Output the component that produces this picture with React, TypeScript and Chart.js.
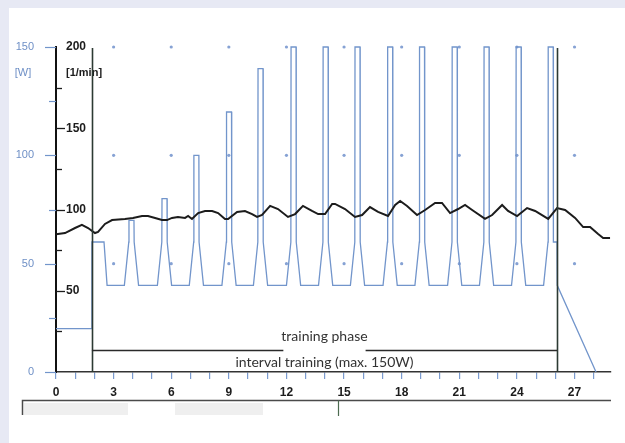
import React, { useEffect, useRef } from 'react';
import { Chart, registerables } from 'chart.js';
Chart.register(...registerables);

// ---- data (minutes on x) ----
const hrMinutes = [0, 0.47, 0.99, 1.35, 1.67, 2.03, 2.19, 2.55, 2.92, 3.59, 4.01, 4.48, 4.79, 5.16, 5.52, 5.78, 6.04, 6.35, 6.72, 6.88, 7.08, 7.4, 7.76, 8.13, 8.44, 8.8, 8.96, 9.43, 9.84, 10.21, 10.47, 10.73, 11.15, 11.56, 12.08, 12.45, 12.86, 13.33, 13.65, 14.01, 14.38, 14.53, 15.05, 15.57, 15.94, 16.35, 16.77, 17.29, 17.66, 17.92, 18.28, 18.8, 19.22, 19.74, 20.1, 20.52, 20.94, 21.3, 21.67, 22.34, 22.71, 23.23, 23.54, 24.01, 24.53, 24.95, 25.63, 26.09, 26.51, 27.03, 27.45, 27.81, 28.23, 28.49, 28.85];
const hrValues = [84.7, 85.5, 88.6, 90.5, 88.6, 85.5, 86.2, 91.1, 93.5, 94.2, 94.8, 96.0, 96.0, 94.8, 93.5, 93.5, 94.8, 95.4, 94.8, 96.0, 94.2, 97.8, 99.1, 99.1, 97.8, 94.2, 94.2, 98.5, 99.1, 97.2, 95.4, 96.6, 102.2, 100.3, 95.4, 97.2, 102.2, 99.1, 97.2, 97.2, 103.4, 103.4, 100.3, 95.4, 96.6, 101.5, 98.5, 96.0, 102.8, 105.2, 102.2, 96.6, 99.7, 104.0, 104.0, 97.8, 100.3, 102.8, 99.7, 94.2, 96.6, 102.8, 99.1, 96.0, 100.9, 99.1, 94.2, 100.9, 99.7, 94.8, 89.2, 89.2, 84.9, 82.5, 82.5];

const powerMinutes = [
  0, 1.87, 1.87, 2.5, 2.66,
  3.56, 3.79, 3.8, 4.06, 4.07, 4.3,
  5.28, 5.51, 5.52, 5.78, 5.79, 6.02,
  6.94, 7.17, 7.18, 7.44, 7.45, 7.68,
  8.64, 8.87, 8.88, 9.14, 9.15, 9.38,
  10.28, 10.51, 10.52, 10.78, 10.79, 11.02,
  12.0, 12.23, 12.24, 12.5, 12.51, 12.74,
  13.67, 13.9, 13.91, 14.17, 14.18, 14.41,
  15.33, 15.56, 15.57, 15.83, 15.84, 16.07,
  17.03, 17.26, 17.27, 17.53, 17.54, 17.77,
  18.69, 18.92, 18.93, 19.19, 19.2, 19.43,
  20.39, 20.62, 20.63, 20.89, 20.9, 21.13,
  22.05, 22.28, 22.29, 22.55, 22.56, 22.79,
  23.72, 23.95, 23.96, 24.22, 24.23, 24.46,
  25.39, 25.62, 25.63, 25.89, 25.9, 26.09, 26.1, 28.12,
];
const powerWatts = [
  20, 20, 60, 60, 40,
  40, 60, 70, 70, 60, 40,
  40, 60, 80, 80, 60, 40,
  40, 60, 100, 100, 60, 40,
  40, 60, 120, 120, 60, 40,
  40, 60, 140, 140, 60, 40,
  40, 60, 150, 150, 60, 40,
  40, 60, 150, 150, 60, 40,
  40, 60, 150, 150, 60, 40,
  40, 60, 150, 150, 60, 40,
  40, 60, 150, 150, 60, 40,
  40, 60, 150, 150, 60, 40,
  40, 60, 150, 150, 60, 40,
  40, 60, 150, 150, 60, 40,
  40, 60, 150, 150, 60, 60, 40, 0,
];

const dotMinutes = [3, 6, 9, 12, 15, 18, 21, 24, 27];
const dotWatts = [50, 100, 150];

const xMax = 28.9;
const wMax = 150;
const hrMax = 200;
const phaseStart = 1.87;
const phaseEnd = 26.09;
const phaseLevelW = 10;
const phaseTitle = 'training phase';
const phaseSubtitle = 'interval training (max. 150W)';
const wUnit = '[W]';
const hrUnit = '[1/min]';

const BLUE = '#7295cb';
const WLABEL = '#6f90c6';
const DARK = '#1c1c1c';
const SANS = '"Liberation Sans", Arial, sans-serif';
const TEXTFONT = 'Lato, "Open Sans", sans-serif';

const decoPlugin = {
  id: 'deco',
  afterDatasetsDraw(chart: any) {
    const { ctx, chartArea } = chart;
    const x = chart.scales.x;
    const yW = chart.scales.yW;
    const yHR = chart.scales.yHR;
    const left = chartArea.left;
    ctx.save();

    // W ticks (left of axis)
    ctx.strokeStyle = BLUE;
    ctx.lineWidth = 1.2;
    for (let v = 0; v <= wMax; v += 25) {
      const y = Math.round(yW.getPixelForValue(v)) + 0.5;
      const len = v % 50 === 0 ? 11 : 7;
      ctx.beginPath();
      ctx.moveTo(left - len, y);
      ctx.lineTo(left, y);
      ctx.stroke();
    }
    // HR ticks (right of axis)
    ctx.strokeStyle = DARK;
    ctx.lineWidth = 1.3;
    for (let v = 25; v < hrMax; v += 25) {
      const y = Math.round(yHR.getPixelForValue(v)) + 0.5;
      const len = v % 50 === 0 ? 9 : 6;
      ctx.beginPath();
      ctx.moveTo(left, y);
      ctx.lineTo(left + len, y);
      ctx.stroke();
    }

    // unit labels
    const unitY = yW.getPixelForValue(wMax) + 26;
    ctx.font = '11px ' + SANS;
    ctx.fillStyle = WLABEL;
    ctx.textAlign = 'center';
    ctx.textBaseline = 'middle';
    ctx.fillText(wUnit, 23, unitY);
    ctx.font = 'bold 11px ' + SANS;
    ctx.fillStyle = DARK;
    ctx.textAlign = 'left';
    ctx.fillText(hrUnit, left + 10, unitY);

    // phase boundary verticals
    ctx.strokeStyle = '#2c3a33';
    ctx.lineWidth = 1.6;
    [phaseStart, phaseEnd].forEach((m) => {
      const px = Math.round(x.getPixelForValue(m)) + 0.5;
      ctx.beginPath();
      ctx.moveTo(px, yW.getPixelForValue(wMax) + 1);
      ctx.lineTo(px, yW.getPixelForValue(0));
      ctx.stroke();
    });

    // phase bar with texts
    const x1 = x.getPixelForValue(phaseStart);
    const x2 = x.getPixelForValue(phaseEnd);
    const cx = (x1 + x2) / 2;
    const ly = Math.round(yW.getPixelForValue(phaseLevelW)) + 0.5;
    ctx.font = '14px ' + TEXTFONT;
    const tw = ctx.measureText(phaseTitle).width;
    ctx.strokeStyle = '#2a2a2a';
    ctx.lineWidth = 1.5;
    ctx.beginPath();
    ctx.moveTo(x1, ly);
    ctx.lineTo(cx - tw / 2 + 2, ly);
    ctx.moveTo(cx + tw / 2 - 2, ly);
    ctx.lineTo(x2, ly);
    ctx.stroke();
    ctx.fillStyle = '#333333';
    ctx.textAlign = 'center';
    ctx.textBaseline = 'middle';
    ctx.fillText(phaseTitle, cx, ly - 14);
    ctx.fillText(phaseSubtitle, cx, ly + 12);

    // lower table remnants
    const bottomY = 400.5;
    ctx.fillStyle = '#efefef';
    ctx.fillRect(24, 403, 104, 12);
    ctx.fillRect(175, 403, 88, 12);
    ctx.strokeStyle = '#4a4a4a';
    ctx.lineWidth = 1.5;
    ctx.beginPath();
    ctx.moveTo(22.5, 415);
    ctx.lineTo(22.5, bottomY);
    ctx.lineTo(chartArea.right, bottomY);
    ctx.stroke();
    ctx.strokeStyle = '#4d6b50';
    ctx.lineWidth = 1.2;
    ctx.beginPath();
    ctx.moveTo(338.5, bottomY);
    ctx.lineTo(338.5, 416);
    ctx.stroke();

    ctx.restore();
  },
};

export default function App() {
  const ref = useRef<HTMLCanvasElement | null>(null);
  useEffect(() => {
    if (!ref.current) return;
    const hrData = hrMinutes.map((m, i) => ({ x: m, y: hrValues[i] }));
    const powerData = powerMinutes.map((m, i) => ({ x: m, y: powerWatts[i] }));
    const dots: { x: number; y: number }[] = [];
    dotWatts.forEach((w) => dotMinutes.forEach((m) => dots.push({ x: m, y: w })));

    const chart = new Chart(ref.current, {
      type: 'line',
      data: {
        datasets: [
          {
            label: 'heart rate',
            data: hrData,
            yAxisID: 'yHR',
            borderColor: DARK,
            borderWidth: 2,
            pointRadius: 0,
            tension: 0,
            order: 0,
          },
          {
            label: 'power',
            data: powerData,
            yAxisID: 'yW',
            borderColor: BLUE,
            borderWidth: 1.3,
            pointRadius: 0,
            tension: 0,
            clip: false,
            order: 1,
          },
          {
            label: 'grid',
            data: dots,
            yAxisID: 'yW',
            showLine: false,
            pointRadius: 1.6,
            pointBorderWidth: 0,
            pointBackgroundColor: '#86a2d4',
            clip: false,
            order: 2,
          },
        ],
      },
      options: {
        responsive: false,
        animation: false,
        devicePixelRatio: 1,
        layout: { padding: { left: 0, top: 47, right: 14, bottom: 0 } },
        plugins: { legend: { display: false }, tooltip: { enabled: false } },
        scales: {
          x: {
            type: 'linear',
            min: 0,
            max: xMax,
            afterFit: (s: any) => { s.height = 71; },
            border: { display: true, color: '#333', width: 1.6 },
            grid: { display: true, drawOnChartArea: false, drawTicks: true, tickLength: 7, color: '#7b9bcf', lineWidth: 1.2 },
            ticks: {
              stepSize: 1,
              includeBounds: false,
              autoSkip: false,
              maxRotation: 0,
              padding: 6,
              color: DARK,
              font: { family: SANS, weight: 'bold', size: 12 },
              callback: (v: any) => (Number(v) % 3 === 0 ? String(v) : ''),
            },
          },
          yW: {
            type: 'linear',
            position: 'left',
            weight: 1,
            min: 0,
            max: wMax,
            afterFit: (s: any) => { s.width = 56; },
            border: { display: false },
            grid: { display: false },
            ticks: {
              stepSize: 25,
              padding: 14,
              color: WLABEL,
              font: { family: SANS, size: 11 },
              callback: (v: any) => (Number(v) % 50 === 0 ? String(v) : ''),
            },
          },
          yHR: {
            type: 'linear',
            position: 'left',
            weight: 0,
            min: 0,
            max: hrMax,
            afterFit: (s: any) => { s.width = 0; },
            border: { display: true, color: '#111', width: 2 },
            grid: { display: false },
            ticks: {
              stepSize: 25,
              mirror: true,
              padding: 10,
              color: DARK,
              font: { family: SANS, weight: 'bold', size: 12 },
              callback: (v: any) => (Number(v) % 50 === 0 && Number(v) > 0 ? String(v) : ''),
            },
          },
        },
      },
      plugins: [decoPlugin],
    });
    return () => chart.destroy();
  }, []);

  return (
    <div style={{ position: 'fixed', left: 0, top: 0, width: 625, height: 443, background: '#e7e9f4', overflow: 'hidden' }}>
      <div style={{ position: 'absolute', left: 9, top: 8, right: 0, bottom: 0, background: '#ffffff' }} />
      <canvas ref={ref} width={625} height={443} style={{ position: 'absolute', left: 0, top: 0, width: 625, height: 443, display: 'block' }} />
    </div>
  );
}
